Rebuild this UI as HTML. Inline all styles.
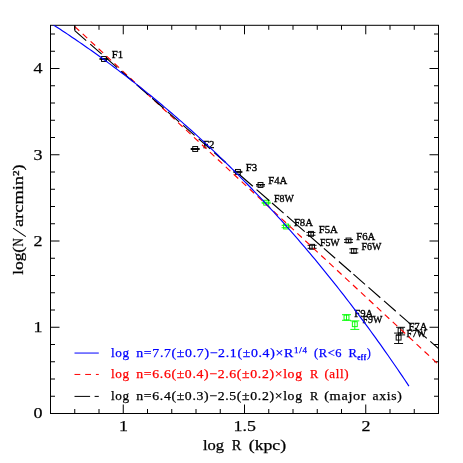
<!DOCTYPE html>
<html><head><meta charset="utf-8"><title>plot</title><style>html,body{margin:0;padding:0;background:#fff}body{width:463px;height:463px;overflow:hidden;position:relative;font-family:"Liberation Serif",serif}</style></head><body>
<svg width="463" height="463" viewBox="0 0 463 463" style="position:absolute;left:0;top:0;will-change:transform;opacity:0.999;font-family:'Liberation Serif',serif">
<rect x="0" y="0" width="463" height="463" fill="#fff"/>
<defs><clipPath id="c"><rect x="50.5" y="25.3" width="388.0" height="388.2"/></clipPath></defs>
<rect x="50.5" y="25.3" width="388.0" height="388.2" fill="none" stroke="#000" stroke-width="1"/>
<path d="M74.75,413.5 v-4.5 M74.75,25.3 v4.5 M99.00,413.5 v-4.5 M99.00,25.3 v4.5 M123.25,413.5 v-9 M123.25,25.3 v9 M147.50,413.5 v-4.5 M147.50,25.3 v4.5 M171.75,413.5 v-4.5 M171.75,25.3 v4.5 M196.00,413.5 v-4.5 M196.00,25.3 v4.5 M220.25,413.5 v-4.5 M220.25,25.3 v4.5 M244.50,413.5 v-9 M244.50,25.3 v9 M268.75,413.5 v-4.5 M268.75,25.3 v4.5 M293.00,413.5 v-4.5 M293.00,25.3 v4.5 M317.25,413.5 v-4.5 M317.25,25.3 v4.5 M341.50,413.5 v-4.5 M341.50,25.3 v4.5 M365.75,413.5 v-9 M365.75,25.3 v9 M390.00,413.5 v-4.5 M390.00,25.3 v4.5 M414.25,413.5 v-4.5 M414.25,25.3 v4.5 M50.5,396.25 h4.5 M438.5,396.25 h-4.5 M50.5,379.00 h4.5 M438.5,379.00 h-4.5 M50.5,361.75 h4.5 M438.5,361.75 h-4.5 M50.5,344.50 h4.5 M438.5,344.50 h-4.5 M50.5,327.25 h9 M438.5,327.25 h-9 M50.5,310.00 h4.5 M438.5,310.00 h-4.5 M50.5,292.75 h4.5 M438.5,292.75 h-4.5 M50.5,275.50 h4.5 M438.5,275.50 h-4.5 M50.5,258.25 h4.5 M438.5,258.25 h-4.5 M50.5,241.00 h9 M438.5,241.00 h-9 M50.5,223.75 h4.5 M438.5,223.75 h-4.5 M50.5,206.50 h4.5 M438.5,206.50 h-4.5 M50.5,189.25 h4.5 M438.5,189.25 h-4.5 M50.5,172.00 h4.5 M438.5,172.00 h-4.5 M50.5,154.75 h9 M438.5,154.75 h-9 M50.5,137.50 h4.5 M438.5,137.50 h-4.5 M50.5,120.25 h4.5 M438.5,120.25 h-4.5 M50.5,103.00 h4.5 M438.5,103.00 h-4.5 M50.5,85.75 h4.5 M438.5,85.75 h-4.5 M50.5,68.50 h9 M438.5,68.50 h-9 M50.5,51.25 h4.5 M438.5,51.25 h-4.5 M50.5,34.00 h4.5 M438.5,34.00 h-4.5" stroke="#000" stroke-width="1" fill="none"/>
<g stroke="#000" fill="none"><rect x="101.55" y="56.55" width="4.9" height="4.9" stroke-width="0.95"/><path stroke-width="0.95" d="M104.00,58.60 V59.40 M99.50,58.60 h9 M99.50,59.40 h9"/></g>
<g stroke="#000" fill="none"><rect x="192.75" y="146.55" width="4.9" height="4.9" stroke-width="0.95"/><path stroke-width="0.95" d="M195.20,148.50 V149.50 M190.70,148.50 h9 M190.70,149.50 h9"/></g>
<g stroke="#000" fill="none"><rect x="235.45" y="169.45" width="4.9" height="4.9" stroke-width="0.95"/><path stroke-width="0.95" d="M237.90,171.40 V172.40 M233.40,171.40 h9 M233.40,172.40 h9"/></g>
<g stroke="#000" fill="none"><rect x="258.05" y="182.55" width="4.9" height="4.9" stroke-width="0.95"/><path stroke-width="0.95" d="M260.50,184.50 V186.00 M256.00,184.50 h9 M256.00,186.00 h9"/></g>
<g stroke="#0f0" fill="none"><rect x="263.75" y="200.25" width="4.9" height="4.9" stroke-width="0.95"/><path stroke-width="0.95" d="M266.20,202.20 V203.20 M261.70,202.20 h9 M261.70,203.20 h9"/></g>
<g stroke="#0f0" fill="none"><rect x="283.65" y="224.05" width="4.9" height="4.9" stroke-width="0.95"/><path stroke-width="0.95" d="M286.10,225.30 V227.70 M281.60,225.30 h9 M281.60,227.70 h9"/></g>
<g stroke="#000" fill="none"><rect x="308.50" y="231.40" width="4.9" height="4.9" stroke-width="0.95"/><path stroke-width="0.95" d="M310.95,232.45 V235.25 M306.45,232.45 h9 M306.45,235.25 h9"/></g>
<g stroke="#000" fill="none"><rect x="309.65" y="244.35" width="4.9" height="4.9" stroke-width="0.95"/><path stroke-width="0.95" d="M312.10,245.30 V248.30 M307.60,245.30 h9 M307.60,248.30 h9"/></g>
<g stroke="#000" fill="none"><rect x="346.05" y="238.05" width="4.9" height="4.9" stroke-width="0.95"/><path stroke-width="0.95" d="M348.50,239.60 V242.40 M344.00,239.60 h9 M344.00,242.40 h9"/></g>
<g stroke="#000" fill="none"><rect x="351.35" y="248.45" width="4.9" height="4.9" stroke-width="0.95"/><path stroke-width="0.95" d="M353.80,248.90 V252.90 M349.30,248.90 h9 M349.30,252.90 h9"/></g>
<g stroke="#0f0" fill="none"><rect x="344.05" y="315.05" width="4.9" height="4.9" stroke-width="0.95"/><path stroke-width="0.95" d="M346.50,314.70 V320.30 M342.00,314.70 h9 M342.00,320.30 h9"/></g>
<g stroke="#0f0" fill="none"><rect x="352.35" y="321.75" width="4.9" height="4.9" stroke-width="0.95"/><path stroke-width="0.95" d="M354.80,320.90 V329.40 M350.30,320.90 h9 M350.30,329.40 h9"/></g>
<g stroke="#000" fill="none"><rect x="398.15" y="328.05" width="4.9" height="4.9" stroke-width="0.95"/><path stroke-width="0.95" d="M400.60,327.30 V334.90 M396.10,327.30 h9 M396.10,334.90 h9"/></g>
<g stroke="#000" fill="none"><rect x="396.15" y="335.15" width="4.9" height="4.9" stroke-width="0.95"/><path stroke-width="0.95" d="M398.60,333.10 V343.50 M394.10,333.10 h9 M394.10,343.50 h9"/></g>
<text x="111.80" y="58.20" font-size="10.4" stroke="#000" stroke-width="0.35" textLength="11.4" lengthAdjust="spacingAndGlyphs" fill="#000">F1</text>
<text x="203.00" y="148.20" font-size="10.4" stroke="#000" stroke-width="0.35" textLength="11.4" lengthAdjust="spacingAndGlyphs" fill="#000">F2</text>
<text x="245.70" y="171.10" font-size="10.4" stroke="#000" stroke-width="0.35" textLength="11.4" lengthAdjust="spacingAndGlyphs" fill="#000">F3</text>
<text x="268.30" y="184.20" font-size="10.4" stroke="#000" stroke-width="0.35" textLength="19.0" lengthAdjust="spacingAndGlyphs" fill="#000">F4A</text>
<text x="274.00" y="201.90" font-size="10.4" stroke="#000" stroke-width="0.35" textLength="19.8" lengthAdjust="spacingAndGlyphs" fill="#000">F8W</text>
<text x="293.90" y="225.70" font-size="10.4" stroke="#000" stroke-width="0.35" textLength="19.0" lengthAdjust="spacingAndGlyphs" fill="#000">F8A</text>
<text x="318.75" y="233.05" font-size="10.4" stroke="#000" stroke-width="0.35" textLength="19.0" lengthAdjust="spacingAndGlyphs" fill="#000">F5A</text>
<text x="319.90" y="246.00" font-size="10.4" stroke="#000" stroke-width="0.35" textLength="19.8" lengthAdjust="spacingAndGlyphs" fill="#000">F5W</text>
<text x="356.30" y="239.70" font-size="10.4" stroke="#000" stroke-width="0.35" textLength="19.0" lengthAdjust="spacingAndGlyphs" fill="#000">F6A</text>
<text x="361.60" y="250.10" font-size="10.4" stroke="#000" stroke-width="0.35" textLength="19.8" lengthAdjust="spacingAndGlyphs" fill="#000">F6W</text>
<text x="354.30" y="316.70" font-size="10.4" stroke="#000" stroke-width="0.35" textLength="19.0" lengthAdjust="spacingAndGlyphs" fill="#000">F9A</text>
<text x="362.60" y="323.40" font-size="10.4" stroke="#000" stroke-width="0.35" textLength="19.8" lengthAdjust="spacingAndGlyphs" fill="#000">F9W</text>
<text x="408.40" y="329.70" font-size="10.4" stroke="#000" stroke-width="0.35" textLength="19.0" lengthAdjust="spacingAndGlyphs" fill="#000">F7A</text>
<text x="406.40" y="336.80" font-size="10.4" stroke="#000" stroke-width="0.35" textLength="19.8" lengthAdjust="spacingAndGlyphs" fill="#000">F7W</text>
<g clip-path="url(#c)" fill="none" stroke-width="1.15">
<path d="M74.75,26.55 L450.63,375.74" stroke="#f00" stroke-dasharray="6.2 4.65"/>
<path d="M74.75,25.3 L74.75,30.58 M74.75,30.58 L86.19,40.59 M90.24,44.13 L101.68,54.13 M105.73,57.67 L117.17,67.67 M121.22,71.21 L132.66,81.21 M136.71,84.75 L148.15,94.75 M152.20,98.29 L163.64,108.30 M167.69,111.84 L179.13,121.84 M183.18,125.38 L194.62,135.38 M198.67,138.92 L210.11,148.92 M214.16,152.46 L225.60,162.46 M238.50,173.74 L252.85,186.29 M256.60,189.56 L269.40,200.75 M272.00,203.03 L283.60,213.17 M287.00,216.14 L304.70,231.62 M309.00,235.37 L321.10,245.95 M323.90,248.40 L335.20,258.28 M338.90,261.51 L350.90,272.01 M353.40,274.19 L365.00,284.33 M368.50,287.39 L380.30,297.71 M384.00,300.94 L395.80,311.26 M399.60,314.58 L411.40,324.90 M415.00,328.04 L426.80,338.36 M430.30,341.42 L440.00,349.90" stroke="#000"/>
<path d="M50.50,23.01 L52.93,24.57 L55.35,26.15 L57.78,27.73 L60.20,29.32 L62.63,30.91 L65.05,32.52 L67.48,34.14 L69.90,35.77 L72.33,37.40 L74.75,39.05 L77.18,40.70 L79.60,42.37 L82.03,44.04 L84.45,45.72 L86.88,47.42 L89.30,49.12 L91.73,50.83 L94.15,52.56 L96.58,54.29 L99.00,56.03 L101.43,57.79 L103.85,59.55 L106.28,61.32 L108.70,63.11 L111.13,64.90 L113.55,66.70 L115.98,68.52 L118.40,70.34 L120.83,72.18 L123.25,74.02 L125.68,75.88 L128.10,77.75 L130.53,79.63 L132.95,81.52 L135.38,83.42 L137.80,85.33 L140.23,87.25 L142.65,89.18 L145.08,91.13 L147.50,93.08 L149.93,95.05 L152.35,97.03 L154.78,99.02 L157.20,101.02 L159.63,103.03 L162.05,105.05 L164.48,107.09 L166.90,109.14 L169.33,111.20 L171.75,113.27 L174.18,115.35 L176.60,117.45 L179.03,119.56 L181.45,121.68 L183.88,123.81 L186.30,125.95 L188.73,128.11 L191.15,130.28 L193.58,132.46 L196.00,134.65 L198.43,136.86 L200.85,139.08 L203.28,141.31 L205.70,143.56 L208.13,145.81 L210.55,148.09 L212.98,150.37 L215.40,152.67 L217.83,154.98 L220.25,157.30 L222.68,159.64 L225.10,161.99 L227.53,164.36 L229.95,166.73 L232.38,169.13 L234.80,171.53 L237.23,173.95 L239.65,176.39 L242.08,178.83 L244.50,181.30 L246.93,183.77 L249.35,186.26 L251.78,188.77 L254.20,191.29 L256.63,193.82 L259.05,196.37 L261.48,198.93 L263.90,201.51 L266.33,204.10 L268.75,206.71 L271.18,209.33 L273.60,211.97 L276.03,214.62 L278.45,217.29 L280.88,219.98 L283.30,222.67 L285.73,225.39 L288.15,228.12 L290.58,230.87 L293.00,233.63 L295.43,236.41 L297.85,239.20 L300.28,242.01 L302.70,244.84 L305.13,247.68 L307.55,250.54 L309.98,253.42 L312.40,256.31 L314.83,259.22 L317.25,262.14 L319.68,265.09 L322.10,268.05 L324.53,271.02 L326.95,274.02 L329.38,277.03 L331.80,280.06 L334.23,283.10 L336.65,286.17 L339.08,289.25 L341.50,292.35 L343.93,295.47 L346.35,298.60 L348.78,301.75 L351.20,304.93 L353.63,308.12 L356.05,311.32 L358.48,314.55 L360.90,317.80 L363.33,321.06 L365.75,324.34 L368.18,327.64 L370.60,330.97 L373.03,334.31 L375.45,337.67 L377.87,341.04 L380.30,344.44 L382.72,347.86 L385.15,351.30 L387.57,354.76 L390.00,358.23 L392.42,361.73 L394.85,365.25 L397.27,368.79 L399.70,372.34 L402.12,375.92 L404.55,379.52 L406.97,383.14 L408.92,386.06" stroke="#00f"/>
</g>
<text x="123.55" y="431.2" font-size="15.5" text-anchor="middle" textLength="9.0" lengthAdjust="spacingAndGlyphs" fill="#000" stroke="#000" stroke-width="0.25">1</text>
<text x="244.80" y="431.2" font-size="15.5" text-anchor="middle" textLength="22.4" lengthAdjust="spacingAndGlyphs" fill="#000" stroke="#000" stroke-width="0.25">1.5</text>
<text x="366.05" y="431.2" font-size="15.5" text-anchor="middle" textLength="9.0" lengthAdjust="spacingAndGlyphs" fill="#000" stroke="#000" stroke-width="0.25">2</text>
<text x="42.6" y="418.30" font-size="15.5" text-anchor="end" textLength="9.0" lengthAdjust="spacingAndGlyphs" fill="#000" stroke="#000" stroke-width="0.25">0</text>
<text x="42.6" y="332.05" font-size="15.5" text-anchor="end" textLength="9.0" lengthAdjust="spacingAndGlyphs" fill="#000" stroke="#000" stroke-width="0.25">1</text>
<text x="42.6" y="245.80" font-size="15.5" text-anchor="end" textLength="9.0" lengthAdjust="spacingAndGlyphs" fill="#000" stroke="#000" stroke-width="0.25">2</text>
<text x="42.6" y="159.55" font-size="15.5" text-anchor="end" textLength="9.0" lengthAdjust="spacingAndGlyphs" fill="#000" stroke="#000" stroke-width="0.25">3</text>
<text x="42.6" y="73.30" font-size="15.5" text-anchor="end" textLength="9.0" lengthAdjust="spacingAndGlyphs" fill="#000" stroke="#000" stroke-width="0.25">4</text>
<text x="203.0" y="449.9" font-size="14" textLength="21.10" lengthAdjust="spacingAndGlyphs" fill="#000" stroke="#000" stroke-width="0.25">log</text>
<text x="231.8" y="449.9" font-size="14" textLength="9.60" lengthAdjust="spacingAndGlyphs" fill="#000" stroke="#000" stroke-width="0.25">R</text>
<text x="248.8" y="449.9" font-size="14" textLength="37.30" lengthAdjust="spacingAndGlyphs" fill="#000" stroke="#000" stroke-width="0.25">(kpc)</text>
<g transform="translate(23.3,274.7) rotate(-90)" font-size="14" fill="#000" stroke="#000" stroke-width="0.25">
<text x="0" y="0" textLength="27.80" lengthAdjust="spacingAndGlyphs">log(</text>
<text x="28.2" y="0" textLength="8.20" lengthAdjust="spacingAndGlyphs">N</text>
<text x="47.6" y="0" textLength="62.80" lengthAdjust="spacingAndGlyphs">arcmin²)</text>
<path d="M38.1,2.5 L46.6,-10.2" stroke-width="1.05" fill="none"/>
</g>
<path d="M74.5,353.05 H98.8" stroke="#00f" stroke-width="1"/>
<path d="M74.5,374.45 H98.8" stroke="#f00" stroke-width="1" stroke-dasharray="5.8 4.9"/>
<path d="M74.5,396.4 H98.8" stroke="#000" stroke-width="1" stroke-dasharray="15.6 4.5"/>
<text x="111.0" y="356.5" font-size="12.5" textLength="18.80" lengthAdjust="spacingAndGlyphs" fill="#00f" stroke="#00f" stroke-width="0.25" letter-spacing="0.6"  xml:space="preserve">log</text>
<text x="136.3" y="356.5" font-size="12.5" textLength="157.50" lengthAdjust="spacingAndGlyphs" fill="#00f" stroke="#00f" stroke-width="0.25" letter-spacing="0.6"  xml:space="preserve">n=7.7(±0.7)−2.1(±0.4)×R</text>
<text x="294" y="353.2" font-size="7.5" textLength="13.60" lengthAdjust="spacingAndGlyphs" fill="#00f" stroke="#00f" stroke-width="0.25" letter-spacing="0.6"  xml:space="preserve">1/4</text>
<text x="314.1" y="356.5" font-size="12.5" textLength="28.10" lengthAdjust="spacingAndGlyphs" fill="#00f" stroke="#00f" stroke-width="0.25" letter-spacing="0.6"  xml:space="preserve">(R&lt;6</text>
<text x="348.6" y="356.5" font-size="12.5" textLength="9.00" lengthAdjust="spacingAndGlyphs" fill="#00f" stroke="#00f" stroke-width="0.25" letter-spacing="0.6"  xml:space="preserve">R</text>
<text x="357.2" y="359.7" font-size="7.5" textLength="9.40" lengthAdjust="spacingAndGlyphs" fill="#00f" stroke="#00f" stroke-width="0.25" letter-spacing="0.6" font-weight="bold" xml:space="preserve">eff</text>
<text x="367.0" y="356.5" font-size="12.5" textLength="4.30" lengthAdjust="spacingAndGlyphs" fill="#00f" stroke="#00f" stroke-width="0.25" letter-spacing="0.6"  xml:space="preserve">)</text>
<text x="111.0" y="377.9" font-size="12.5" textLength="18.80" lengthAdjust="spacingAndGlyphs" fill="#f00" stroke="#f00" stroke-width="0.25" letter-spacing="0.6"  xml:space="preserve">log</text>
<text x="136.3" y="377.9" font-size="12.5" textLength="166.40" lengthAdjust="spacingAndGlyphs" fill="#f00" stroke="#f00" stroke-width="0.25" letter-spacing="0.6"  xml:space="preserve">n=6.6(±0.4)−2.6(±0.2)×log</text>
<text x="310.1" y="377.9" font-size="12.5" textLength="8.80" lengthAdjust="spacingAndGlyphs" fill="#f00" stroke="#f00" stroke-width="0.25" letter-spacing="0.6"  xml:space="preserve">R</text>
<text x="324.4" y="377.9" font-size="12.5" textLength="24.80" lengthAdjust="spacingAndGlyphs" fill="#f00" stroke="#f00" stroke-width="0.25" letter-spacing="0.6"  xml:space="preserve">(all)</text>
<text x="111.0" y="399.7" font-size="12.5" textLength="18.80" lengthAdjust="spacingAndGlyphs" fill="#000" stroke="#000" stroke-width="0.25" letter-spacing="0.6"  xml:space="preserve">log</text>
<text x="136.3" y="399.7" font-size="12.5" textLength="166.40" lengthAdjust="spacingAndGlyphs" fill="#000" stroke="#000" stroke-width="0.25" letter-spacing="0.6"  xml:space="preserve">n=6.4(±0.3)−2.5(±0.2)×log</text>
<text x="310.1" y="399.7" font-size="12.5" textLength="8.80" lengthAdjust="spacingAndGlyphs" fill="#000" stroke="#000" stroke-width="0.25" letter-spacing="0.6"  xml:space="preserve">R</text>
<text x="324.2" y="399.7" font-size="12.5" textLength="42.10" lengthAdjust="spacingAndGlyphs" fill="#000" stroke="#000" stroke-width="0.25" letter-spacing="0.6"  xml:space="preserve">(major</text>
<text x="372.6" y="399.7" font-size="12.5" textLength="29.80" lengthAdjust="spacingAndGlyphs" fill="#000" stroke="#000" stroke-width="0.25" letter-spacing="0.6"  xml:space="preserve">axis)</text>
</svg>
</body></html>
